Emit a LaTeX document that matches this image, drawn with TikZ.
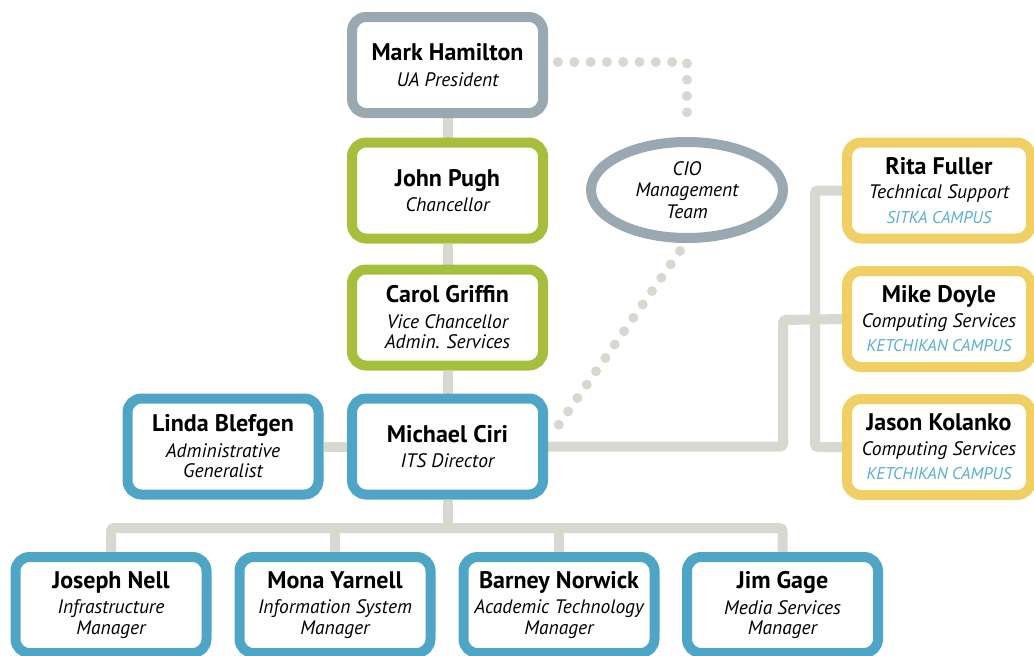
\documentclass[tikz,border=0pt]{standalone}
\usepackage{fontspec}
\setmainfont{PT Sans}
\usetikzlibrary{shapes.geometric,backgrounds,calc}

\definecolor{topgray}{HTML}{9AA8B2}
\definecolor{chgreen}{HTML}{A5BE3B}
\definecolor{itsblue}{HTML}{4EA5C6}
\definecolor{siteyellow}{HTML}{F0CF65}
\definecolor{linkgray}{HTML}{D7D8D0}
\definecolor{campusblue}{HTML}{5AAED0}

\newcommand{\pname}[1]{{\fontsize{24}{21}\selectfont\upshape\bfseries #1}}
\newcommand{\campus}[1]{{\fontsize{17}{21}\selectfont\color{campusblue}#1}}

\begin{document}
\begin{tikzpicture}[x=1pt,y=-1pt,
  person/.style={draw, line width=10pt, fill=white, rounded corners=14pt,
    minimum width=191pt, minimum height=96pt, inner sep=0pt, align=center,
    font=\fontsize{19.5}{20.5}\selectfont\itshape},
  site/.style={person, draw=siteyellow, minimum width=184pt},
  link/.style={draw=linkgray, line width=10pt, rounded corners=3pt},
  dots/.style={draw=linkgray, line width=10pt, line cap=round,
    dash pattern=on 0pt off 16.3pt}]
\useasboundingbox (0,0) rectangle (1034,656);

% leadership chain
\node[person, draw=topgray] (mark) at (447.5,65) {\pname{Mark Hamilton}\\[5pt]UA President};
\node[person, draw=chgreen] (john) at (447.5,190.5) {\pname{John Pugh}\\[5pt]Chancellor};
\node[person, draw=chgreen] (carol) at (447.5,317.5) {\pname{Carol Griffin}\\[5pt]Vice Chancellor\\Admin. Services};
\node[person, draw=itsblue] (michael) at (447.5,446.5) {\pname{Michael Ciri}\\[5pt]ITS Director};
\node[person, draw=itsblue] (linda) at (223,446.5) {\pname{Linda Blefgen}\\[5pt]Administrative\\Generalist};

% CIO management team
\node[ellipse, draw=topgray, line width=10pt, fill=white, minimum width=192pt,
  minimum height=96pt, inner sep=0pt, align=center,
  font=\fontsize{19.5}{21.5}\selectfont\itshape] (cio) at (687,190) {CIO\\Management\\Team};

% ITS managers
\node[person, draw=itsblue] (joseph) at (111,605) {\pname{Joseph Nell}\\[5pt]Infrastructure\\Manager};
\node[person, draw=itsblue] (mona) at (335,605) {\pname{Mona Yarnell}\\[5pt]Information System\\Manager};
\node[person, draw=itsblue] (barney) at (559,605) {\pname{Barney Norwick}\\[5pt]Academic Technology\\Manager};
\node[person, draw=itsblue] (jim) at (782.5,605) {\pname{Jim Gage}\\[5pt]Media Services\\Manager};

% campus staff
\node[site] (rita) at (939,190.5) {\pname{Rita Fuller}\\[4pt]Technical Support\\[4pt]\campus{SITKA CAMPUS}};
\node[site] (mike) at (939,319) {\pname{Mike Doyle}\\[4pt]Computing Services\\[4pt]\campus{KETCHIKAN CAMPUS}};
\node[site] (jason) at (939,447) {\pname{Jason Kolanko}\\[4pt]Computing Services\\[4pt]\campus{KETCHIKAN CAMPUS}};

\coordinate (bus) at (447.5,528);
\coordinate (rjoint) at (783,320);
\coordinate (rtrunk) at (815,320);

\begin{pgfonlayer}{background}
  \path[link] (mark.south) -- (john.north);
  \path[link] (john.south) -- (carol.north);
  \path[link] (carol.south) -- (michael.north);
  \path[link] (linda.east) -- (michael.west);
  \path[link] (michael.south) -- (bus);
  \path[link] (joseph.north) -- (joseph.north |- bus) -- (jim.north |- bus) -- (jim.north);
  \path[link] (mona.north) -- (mona.north |- bus);
  \path[link] (barney.north) -- (barney.north |- bus);
  \path[link] (michael.east) -| (rjoint) -- (mike.west);
  \path[link] (rita.west) -| (rtrunk) |- (jason.west);
  \path[dots] ($(mark.east)+(10,-3)$) -| ($(cio.north)+(0,-9)$);
  \path[dots] ($(cio.south)+(-7,8)$) -- ($(michael.east)+(4,-12)$);
\end{pgfonlayer}
\end{tikzpicture}
\end{document}
